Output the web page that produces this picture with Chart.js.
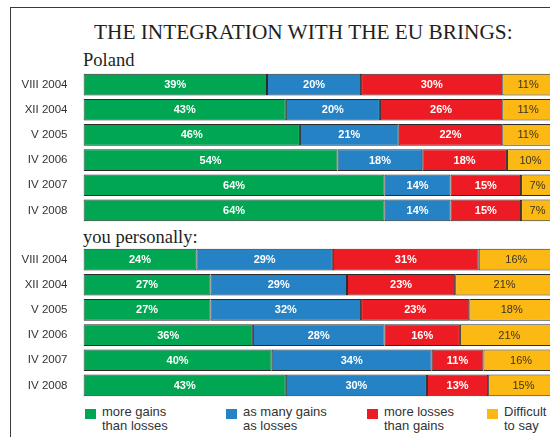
<!DOCTYPE html>
<html>
<head>
<meta charset="utf-8">
<script src="https://cdn.jsdelivr.net/npm/chart.js@4.4.1/dist/chart.umd.min.js"></script>
<style>
  html,body{margin:0;padding:0;background:#fff;width:550px;height:437px;overflow:hidden;}
  #frame{position:absolute;left:10px;top:7px;width:600px;height:500px;border-left:1px solid #3a3a3a;border-top:1px solid #3a3a3a;}
  .serif{position:absolute;font-family:"Liberation Serif","Times New Roman",serif;color:#231f20;white-space:nowrap;line-height:1;}
  #title{left:94px;top:22px;font-size:21.3px;}
  #poland{left:83px;top:51px;font-size:18.5px;}
  #personal{left:83px;top:228px;font-size:18.5px;}
  canvas{position:absolute;left:0;}
  #chartPoland{top:72px;}
  #chartPersonal{top:247px;}
  .leg{position:absolute;top:405px;font-family:"Liberation Sans",Arial,sans-serif;font-size:13px;line-height:14px;color:#333;white-space:nowrap;}
  .sw{position:absolute;top:409px;width:11px;height:10px;}
</style>
</head>
<body>
<div id="frame"></div>
<div class="serif" id="title">THE INTEGRATION WITH THE EU BRINGS:</div>
<div class="serif" id="poland">Poland</div>
<div class="serif" id="personal">you personally:</div>
<canvas id="chartPoland" width="554" height="151"></canvas>
<canvas id="chartPersonal" width="554" height="151"></canvas>
<div id="legend"></div>
<script>
// survey waves
const CATEGORIES=['VIII 2004','XII 2004','V 2005','IV 2006','IV 2007','IV 2008'];
const SERIES=[['more gains','than losses'],['as many gains','as losses'],['more losses','than gains'],['Difficult','to say']];
const COLORS=['#00a651','#2482c5','#ed1c24','#fdb913'];

// Poland
const POLAND_GAINS=[39,43,46,54,64,64];
const POLAND_EQUAL=[20,20,21,18,14,14];
const POLAND_LOSSES=[30,26,22,18,15,15];
const POLAND_HARD=[11,11,11,10,7,7];

// you personally
const PERSONAL_GAINS=[24,27,27,36,40,43];
const PERSONAL_EQUAL=[29,29,32,28,34,30];
const PERSONAL_LOSSES=[31,23,23,16,11,13];
const PERSONAL_HARD=[16,21,18,21,16,15];

const SANS='"Liberation Sans", Arial, sans-serif';

const segLabels={
  id:'segLabels',
  afterDatasetsDraw(chart){
    const ctx=chart.ctx;
    ctx.save();
    ctx.textAlign='center';
    ctx.textBaseline='middle';
    chart.data.datasets.forEach((ds,di)=>{
      const meta=chart.getDatasetMeta(di);
      meta.data.forEach((bar,i)=>{
        const cx=(bar.x+bar.base)/2;
        ctx.font=(di===3?'':'bold ')+'11px '+SANS;
        ctx.fillStyle=di===3?'#3b3320':'#ffffff';
        ctx.fillText(ds.data[i]+'%',cx,bar.y+0.5);
      });
    });
    ctx.restore();
  }
};

function makeChart(id,rows){
  const el=document.getElementById(id);
  return new Chart(el,{
    type:'bar',
    data:{
      labels:CATEGORIES,
      datasets:rows.map((data,i)=>({
        label:SERIES[i].join(' '),
        data,
        backgroundColor:COLORS[i],
        borderColor:'#2b2b2b',
        borderWidth:1,
        borderSkipped:false,
        barPercentage:0.86,
        categoryPercentage:1
      }))
    },
    options:{
      indexAxis:'y',
      responsive:false,
      devicePixelRatio:1,
      animation:false,
      layout:{padding:0},
      plugins:{legend:{display:false},tooltip:{enabled:false}},
      scales:{
        x:{stacked:true,min:0,max:100,display:false},
        y:{
          stacked:true,
          grid:{display:false,drawTicks:false},
          border:{display:false},
          ticks:{color:'#333',font:{family:SANS,size:11.5},padding:16},
          afterFit(a){a.width=83.5;a.paddingTop=0;a.paddingBottom=0;}
        }
      }
    },
    plugins:[segLabels]
  });
}

makeChart('chartPoland',[POLAND_GAINS,POLAND_EQUAL,POLAND_LOSSES,POLAND_HARD]);
makeChart('chartPersonal',[PERSONAL_GAINS,PERSONAL_EQUAL,PERSONAL_LOSSES,PERSONAL_HARD]);

// legend (two-line labels)
const LEG_X=[85,226,367,487];
const leg=document.getElementById('legend');
SERIES.forEach((lines,i)=>{
  const sw=document.createElement('div');
  sw.className='sw';
  sw.style.left=LEG_X[i]+'px';
  sw.style.background=COLORS[i];
  leg.appendChild(sw);
  const t=document.createElement('div');
  t.className='leg';
  t.style.left=(LEG_X[i]+17)+'px';
  t.innerHTML=lines.join('<br>');
  leg.appendChild(t);
});
</script>
</body>
</html>
